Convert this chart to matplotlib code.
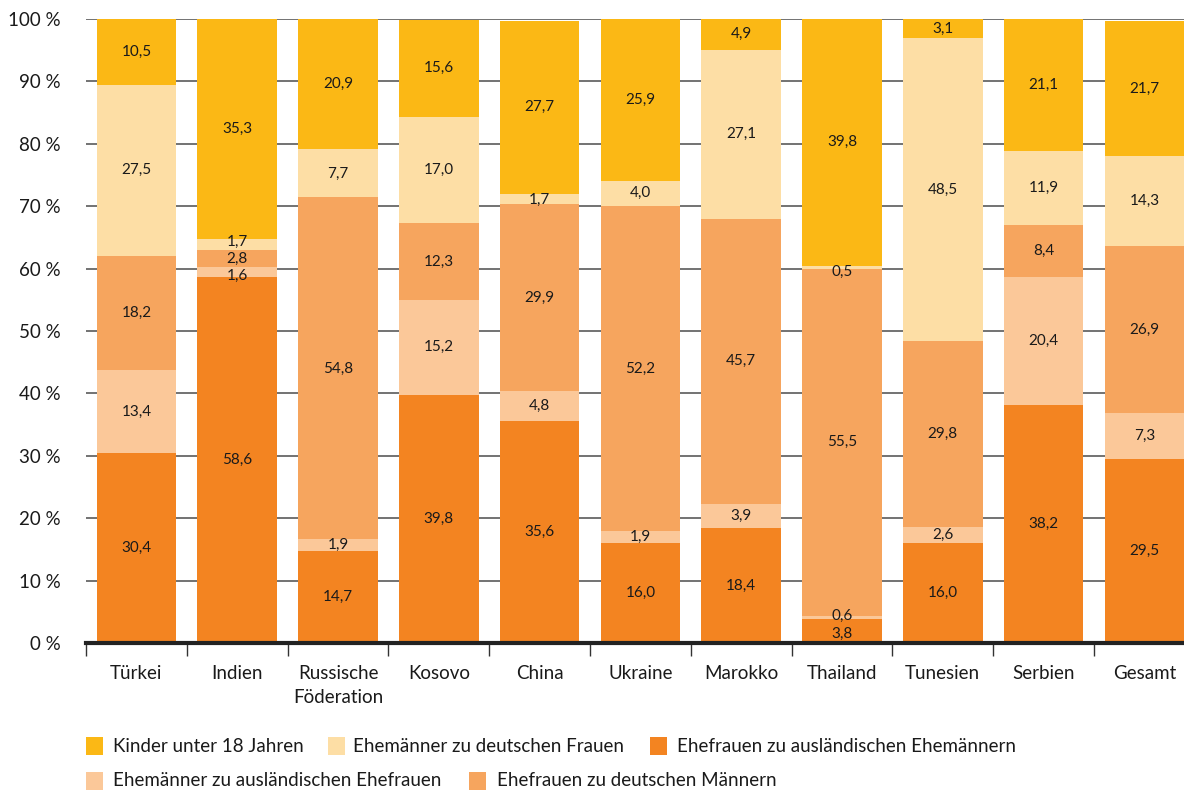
import matplotlib
matplotlib.use("Agg")
import matplotlib.pyplot as plt
from matplotlib.patches import Rectangle
import numpy as np

plt.rcParams['font.family'] = ['Lato', 'DejaVu Sans']

categories = ["Türkei", "Indien", "Russische\nFöderation", "Kosovo", "China", "Ukraine",
              "Marokko", "Thailand", "Tunesien", "Serbien", "Gesamt"]

# stacked bottom -> top
ehefrauen_ausl = [30.4, 58.6, 14.7, 39.8, 35.6, 16.0, 18.4, 3.8, 16.0, 38.2, 29.5]
ehemaenner_ausl = [13.4, 1.6, 1.9, 15.2, 4.8, 1.9, 3.9, 0.6, 2.6, 20.4, 7.3]
ehefrauen_dt = [18.2, 2.8, 54.8, 12.3, 29.9, 52.2, 45.7, 55.5, 29.8, 8.4, 26.9]
ehemaenner_dt = [27.5, 1.7, 7.7, 17.0, 1.7, 4.0, 27.1, 0.5, 48.5, 11.9, 14.3]
kinder = [10.5, 35.3, 20.9, 15.6, 27.7, 25.9, 4.9, 39.8, 3.1, 21.1, 21.7]

series = [
    ("Ehefrauen zu ausländischen Ehemännern", ehefrauen_ausl, "#F38421"),
    ("Ehemänner zu ausländischen Ehefrauen", ehemaenner_ausl, "#FBC899"),
    ("Ehefrauen zu deutschen Männern", ehefrauen_dt, "#F6A55E"),
    ("Ehemänner zu deutschen Frauen", ehemaenner_dt, "#FDDEA5"),
    ("Kinder unter 18 Jahren", kinder, "#FBB815"),
]

# small label nudges (in %-points) for thin segments: (series index, category index) -> dy
label_nudge = {(1, 1): -0.6, (3, 1): 0.4, (0, 7): -0.5, (1, 7): 0.2, (3, 7): -0.6, (3, 4): -0.2}

W, H = 1184, 792
PITCH = 100.8  # pixels per category
fig = plt.figure(figsize=(W / 100, H / 100), dpi=100)
ax = fig.add_axes([86 / W, (H - 643) / H, (PITCH * len(categories)) / W, (643 - 19) / H])

x = np.arange(len(categories))
bottom = np.zeros(len(categories))
for si, (name, vals, col) in enumerate(series):
    vals = np.array(vals)
    ax.bar(x, vals, bottom=bottom, width=0.79, color=col, zorder=2, linewidth=0)
    for ci, (b, v) in enumerate(zip(bottom, vals)):
        y = b + v / 2 + label_nudge.get((si, ci), 0)
        ax.text(x[ci], y, f"{v:.1f}".replace(".", ","), ha="center", va="center",
                fontsize=11, color="#1a1a1a", zorder=3)
    bottom = bottom + vals

ax.set_xlim(-0.5, len(categories) - 0.5)
ax.set_ylim(0, 100)
ax.set_yticks(np.arange(0, 101, 10))
ax.set_yticklabels([f"{v} %" for v in range(0, 101, 10)], fontsize=13.5, color="#1a1a1a")
ax.yaxis.grid(True, color="#5a5a5a", linewidth=1.2, zorder=0)
ax.set_axisbelow(True)
ax.tick_params(axis="y", length=0, pad=18)

ax.set_xticks(x)
ax.set_xticklabels(categories, fontsize=13.5, color="#1a1a1a", linespacing=1.5)
ax.tick_params(axis="x", which="major", length=0, pad=16)
ax.set_xticks(np.arange(-0.5, len(categories), 1.0), minor=True)
ax.tick_params(axis="x", which="minor", length=9, width=1, color="#333333")

for s in ["top", "right", "left"]:
    ax.spines[s].set_visible(False)
ax.spines["bottom"].set_linewidth(3)
ax.spines["bottom"].set_color("#222222")
ax.spines["bottom"].set_zorder(4)

# legend (flow layout)
legend_items = [
    ("Kinder unter 18 Jahren", "#FBB815", 86, 113, 746),
    ("Ehemänner zu deutschen Frauen", "#FDDEA5", 328, 353, 746),
    ("Ehefrauen zu ausländischen Ehemännern", "#F38421", 650, 677, 746),
    ("Ehemänner zu ausländischen Ehefrauen", "#FBC899", 86, 113, 781),
    ("Ehefrauen zu deutschen Männern", "#F6A55E", 469, 497, 781),
]
for label, col, sx, tx, yc in legend_items:
    fig.add_artist(Rectangle((sx / W, (H - yc - 9) / H), 17 / W, 18 / H,
                             transform=fig.transFigure, color=col, linewidth=0))
    fig.text(tx / W, (H - yc) / H, label, fontsize=13.5, color="#1a1a1a",
             ha="left", va="center")

fig.savefig("out.png", dpi=100)
